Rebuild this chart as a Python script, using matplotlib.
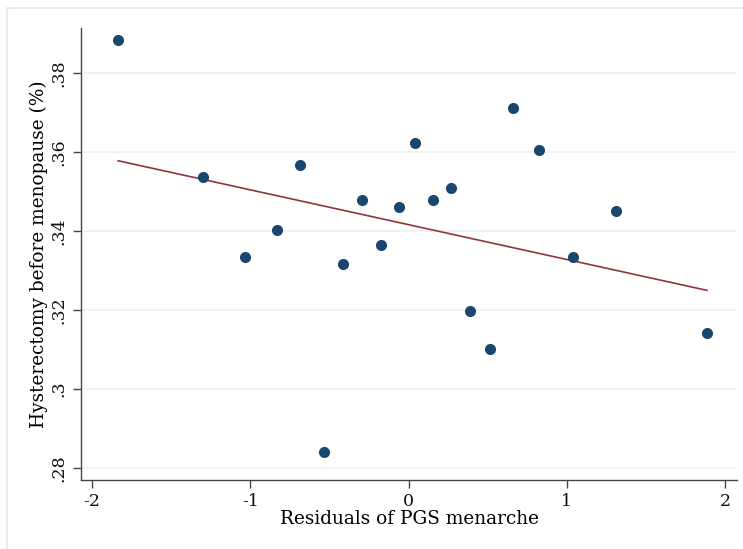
import matplotlib
matplotlib.use("Agg")
import matplotlib.pyplot as plt
from matplotlib.patches import Rectangle

# binned residuals of PGS menarche vs share with hysterectomy before menopause
pgs_resid = [-1.835, -1.297, -1.032, -0.829, -0.684, -0.532, -0.411, -0.291, -0.171, -0.063,
             0.038, 0.152, 0.266, 0.386, 0.513, 0.658, 0.823, 1.038, 1.310, 1.886]
hyst_share = [0.3884, 0.3537, 0.3334, 0.3403, 0.3567, 0.2840, 0.3316, 0.3478, 0.3365, 0.3461,
              0.3623, 0.3478, 0.3509, 0.3198, 0.3101, 0.3711, 0.3605, 0.3334, 0.3451, 0.3142]

# fitted line end points
fit_x = [-1.835, 1.886]
fit_y = [0.3578, 0.3250]

x_ticks = [-2, -1, 0, 1, 2]
y_ticks = [0.28, 0.30, 0.32, 0.34, 0.36, 0.38]
y_tick_labels = [".28", ".3", ".32", ".34", ".36", ".38"]

plt.rcParams["font.family"] = ["DejaVu Serif"]

fig = plt.figure(figsize=(7.43, 5.49), dpi=100)
fig.patches.append(Rectangle((7 / 743, -0.1), 1.2, (541 / 549) + 0.1, transform=fig.transFigure,
                             fill=False, edgecolor="#e6edf0", linewidth=1.5))

ax = fig.add_axes([81 / 743, 69 / 549, 656 / 743, 452 / 549])
ax.set_xlim(-2.07, 2.076)
ax.set_ylim(0.2770, 0.3914)

ax.grid(axis="y", color="#eaf1f3", linewidth=1.2)
ax.set_axisbelow(True)

ax.scatter(pgs_resid, hyst_share, s=64, color="#1a476f", zorder=3, linewidths=0)
ax.plot(fit_x, fit_y, color="#90353b", linewidth=1.2, zorder=2)

for side in ("top", "right"):
    ax.spines[side].set_visible(False)
for side in ("left", "bottom"):
    ax.spines[side].set_color("#444444")
    ax.spines[side].set_linewidth(1.0)

ax.set_xticks(x_ticks)
ax.set_xticklabels([str(v) for v in x_ticks])
ax.set_yticks(y_ticks)
ax.set_yticklabels(y_tick_labels, rotation=90, va="center")
ax.tick_params(axis="both", direction="out", length=5.5, width=1.0, color="#444444",
               labelsize=12.5, labelcolor="#111111", pad=4)

ax.set_xlabel("Residuals of PGS menarche", fontsize=13.3, labelpad=0)
ax.set_ylabel("Hysterectomy before menopause (%)", fontsize=13.3, labelpad=2)

fig.savefig("out.png", dpi=100, facecolor="white")
